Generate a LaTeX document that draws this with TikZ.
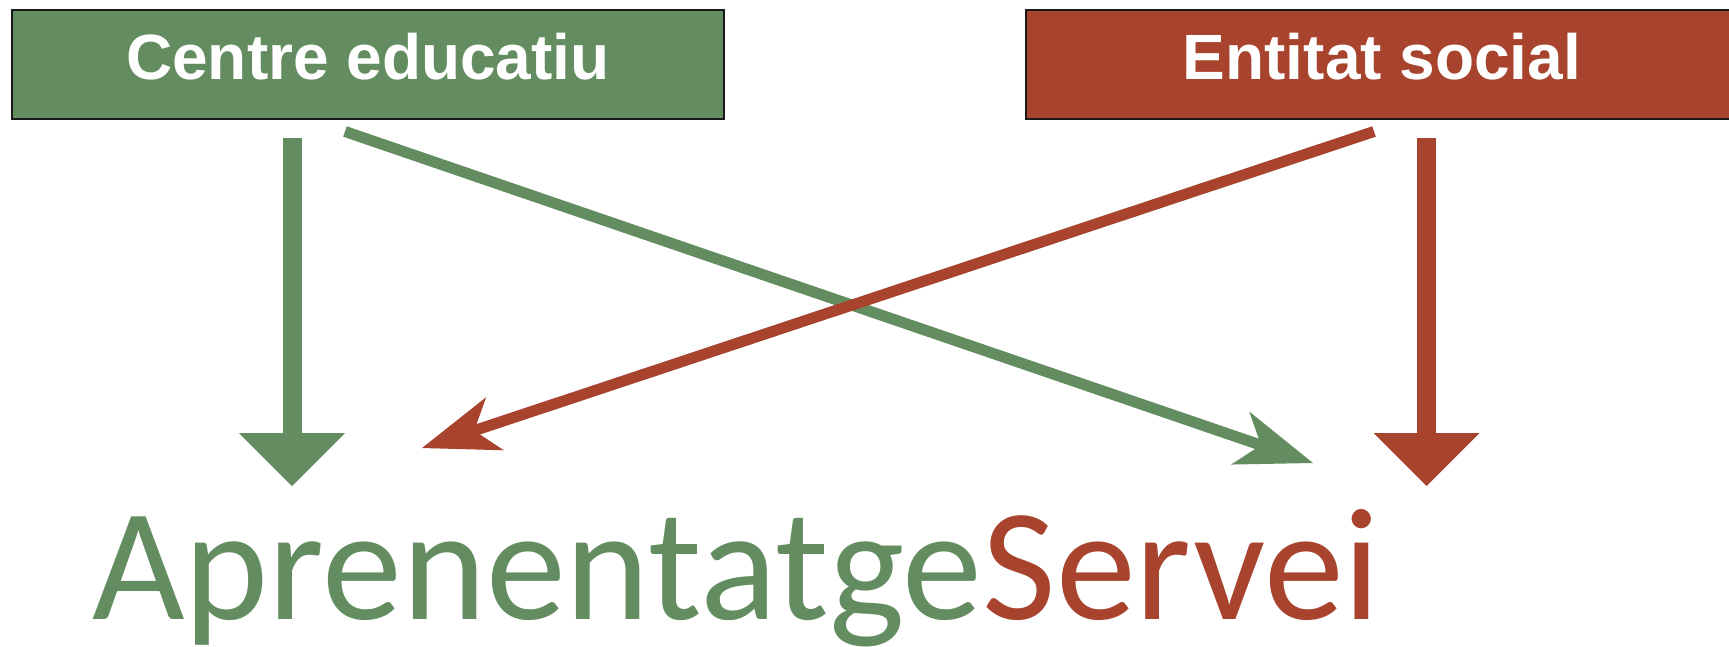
\documentclass[tikz,border=0pt]{standalone}
\usepackage{fontspec}
\setmainfont{Liberation Sans}
\newfontfamily\carlito{Carlito}
\usetikzlibrary{arrows.meta}
\definecolor{cgreen}{RGB}{99,141,96}
\definecolor{cred}{RGB}{168,67,45}
\begin{document}
\begin{tikzpicture}[x=1pt,y=-1pt,
  box/.style={draw=black!90, line width=2.5pt, minimum width=712pt, minimum height=109pt,
    inner sep=0pt, text=white, font=\bfseries\fontsize{64}{64}\selectfont,
    text height=46pt, text depth=17pt},
  blockarrow/.style={line width=19pt, -{Triangle[length=53pt,width=106pt,line width=0pt]}},
  thinarrow/.style={line width=11pt, -{Stealth[length=77pt,width=56pt,inset=22pt,line width=0pt]}},
  word/.style={inner sep=0pt, anchor=base west, font=\carlito\fontsize{160}{160}\selectfont}
]
\useasboundingbox (0,0) rectangle (1729,646);
\clip (0,0) rectangle (1729,646);
\fill[white] (0,0) rectangle (1729,646);
\node[box, fill=cgreen] (ce) at (368,64.5) {Centre educatiu};
\node[box, fill=cred] (es) at (1382,64.5) {Entitat social};
\node[word, text=cgreen] (apr) at (92,619) {Aprenentatge};
\node[word, text=cred] (ser) at (apr.base east) {Servei};
\coordinate (g1) at (292,138);
\coordinate (g2) at (292,486);
\coordinate (r1) at (1426.5,138);
\coordinate (r2) at (1426.5,486);
\coordinate (gd1) at (345,131.5);
\coordinate (gd2) at (1313,463);
\coordinate (rd1) at (1374,131.5);
\coordinate (rd2) at (422,448);
\draw[blockarrow, cgreen] (g1) -- (g2);
\draw[blockarrow, cred] (r1) -- (r2);
\draw[thinarrow, cgreen] (gd1) -- (gd2);
\draw[thinarrow, cred] (rd1) -- (rd2);
\end{tikzpicture}
\end{document}
